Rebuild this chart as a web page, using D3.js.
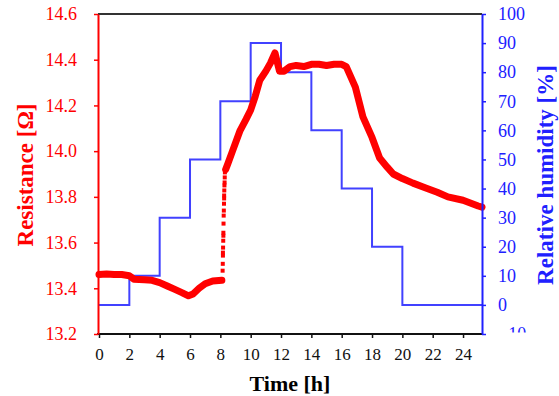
<!DOCTYPE html>
<html>
<head>
<meta charset="utf-8">
<script src="https://cdnjs.cloudflare.com/ajax/libs/d3/7.8.5/d3.min.js"></script>
<style>
    html, body { margin: 0; padding: 0; background: white; }
    svg { display: block; }
</style>
</head>
<body>
<svg id="chart" width="559" height="396"></svg>
<script>
//humidity steps (start hour, %)
var stepTimes = [0, 2, 4, 6, 8, 10, 12, 14, 16, 18, 20, 25.25];
var stepHumidity = [0, 10, 30, 50, 70, 90, 80, 60, 40, 20, 0, 0];

//resistance trace (hours, ohm)
var resTimes = [0, 0.5, 1, 1.5, 2, 2.3, 3, 3.5, 4, 4.5, 5, 5.5, 5.9, 6.2, 6.6, 7, 7.5, 8.1];
var resValues = [13.46, 13.462, 13.46, 13.46, 13.455, 13.44, 13.437, 13.435, 13.425, 13.41, 13.395, 13.38, 13.367, 13.375, 13.40, 13.42, 13.432, 13.435];

var riseTimes = [8.35, 8.5, 8.8, 9.3, 9.7, 10, 10.3, 10.6, 11, 11.3, 11.6, 11.9, 12.2, 12.6, 13, 13.5, 14, 14.5, 15, 15.5, 16, 16.3, 16.9, 17.4, 18, 18.5, 19, 19.4, 20, 20.7, 21.5, 22.3, 23, 24, 25, 25.25];
var riseValues = [13.92, 13.946, 14.0, 14.09, 14.14, 14.18, 14.24, 14.31, 14.35, 14.385, 14.43, 14.35, 14.35, 14.37, 14.375, 14.37, 14.38, 14.38, 14.375, 14.38, 14.38, 14.37, 14.28, 14.15, 14.06, 13.97, 13.93, 13.90, 13.88, 13.86, 13.84, 13.82, 13.80, 13.785, 13.76, 13.755];

//sparse points during the jump at ~8.2 h
var jumpTimes = [8.15, 8.16, 8.17, 8.17, 8.18, 8.19, 8.2, 8.2, 8.21, 8.22, 8.23, 8.24, 8.25, 8.25, 8.26, 8.27, 8.28, 8.29, 8.3];
var jumpValues = [13.477, 13.507, 13.543, 13.556, 13.578, 13.608, 13.63, 13.643, 13.683, 13.718, 13.74, 13.77, 13.793, 13.806, 13.828, 13.85, 13.863, 13.885, 13.907];

//ticks
var timeTicks = [0, 2, 4, 6, 8, 10, 12, 14, 16, 18, 20, 22, 24];
var resTicks = [13.2, 13.4, 13.6, 13.8, 14.0, 14.2, 14.4, 14.6];
var humTicks = [-10, 0, 10, 20, 30, 40, 50, 60, 70, 80, 90, 100];

var RED = "#ff0000";
var BLUE = "#2020ff";

var svg = d3.select("#chart");
//plot box (window.top is taken, so no plain "top")
var plotLeft = 98, plotRight = 482, plotTop = 14, plotBottom = 334;

var x = d3.scaleLinear().domain([0, 25.25]).range([plotLeft + 1, plotRight]);
var yRes = d3.scaleLinear().domain([13.2, 14.6]).range([plotBottom, plotTop]);
var yHum = d3.scaleLinear().domain([-10, 100]).range([plotBottom, plotTop]);

var font = "'Liberation Serif', 'Times New Roman', serif";

//frame top line
svg.append("line")
    .attr("x1", plotLeft).attr("x2", plotRight)
    .attr("y1", plotTop).attr("y2", plotTop)
    .style("stroke", "#333").style("stroke-width", 2);

//humidity step line
var stepLine = d3.line()
    .x(function (d) { return x(d[0]); })
    .y(function (d) { return yHum(d[1]); })
    .curve(d3.curveStepAfter);
svg.append("path")
    .datum(stepTimes.map(function (t, i) { return [t, stepHumidity[i]]; }))
    .attr("d", stepLine)
    .style("fill", "none")
    .style("stroke", BLUE)
    .style("stroke-opacity", 0.85)
    .style("stroke-width", 2);

//resistance trace
var resLine = d3.line()
    .x(function (d) { return x(d[0]); })
    .y(function (d) { return yRes(d[1]); });

[[resTimes, resValues], [riseTimes, riseValues]].forEach(function (s) {
    svg.append("path")
        .datum(s[0].map(function (t, i) { return [t, s[1][i]]; }))
        .attr("d", resLine)
        .style("fill", "none")
        .style("stroke", RED)
        .style("stroke-width", 7)
        .style("stroke-linejoin", "round")
        .style("stroke-linecap", "round");
});

svg.selectAll(".jump")
    .data(jumpTimes.map(function (t, i) { return [t, jumpValues[i]]; }))
    .enter().append("rect")
    .attr("class", "jump")
    .attr("x", function (d) { return x(d[0]) - 2; })
    .attr("y", function (d) { return yRes(d[1]) - 2; })
    .attr("width", 4).attr("height", 4)
    .style("fill", RED);

//axes
var xAxis = svg.append("g")
    .attr("transform", "translate(0," + plotBottom + ")")
    .call(d3.axisBottom(x).tickValues(timeTicks).tickSize(4).tickPadding(10).tickSizeOuter(0));
xAxis.select(".domain").attr("d", "M" + (plotLeft - 1) + ",0H" + plotRight).style("stroke", "#111").style("stroke-width", 2);
xAxis.selectAll(".tick line").style("stroke", "#111").style("stroke-width", 1.5);
xAxis.selectAll("text").style("font-family", font).style("font-size", "17px").style("fill", "#111");

var resAxis = svg.append("g")
    .attr("transform", "translate(" + plotLeft + ",0)")
    .call(d3.axisLeft(yRes).tickValues(resTicks).tickFormat(d3.format(".1f")).tickSize(4).tickPadding(17).tickSizeOuter(0));
resAxis.select(".domain").style("stroke", RED).style("stroke-width", 2);
resAxis.selectAll(".tick line").style("stroke", RED).style("stroke-width", 1.5);
resAxis.selectAll("text").style("font-family", font).style("font-size", "18px").style("fill", RED);

var humAxis = svg.append("g")
    .attr("transform", "translate(" + plotRight + ",0)")
    .call(d3.axisRight(yHum).tickValues(humTicks).tickSize(4).tickPadding(12).tickSizeOuter(0));
humAxis.select(".domain").style("stroke", BLUE).style("stroke-width", 2);
humAxis.selectAll(".tick line").style("stroke", BLUE).style("stroke-width", 1.5);
humAxis.selectAll("text").style("font-family", font).style("font-size", "18px").style("fill", BLUE);

//the -10 label is cut off just below the axis in the original
//(clip rect is in the tick's local space, tick centre at y=0)
svg.append("clipPath").attr("id", "humClip")
    .append("rect").attr("x", 0).attr("y", -10).attr("width", 80).attr("height", 8);
humAxis.selectAll(".tick text").filter(function (d) { return d == -10; })
    .attr("clip-path", "url(#humClip)");

//axis titles
svg.append("text")
    .attr("x", 290).attr("y", 391)
    .attr("text-anchor", "middle")
    .style("font-family", font).style("font-weight", "bold").style("font-size", "22px")
    .text("Time [h]");

svg.append("text")
    .attr("transform", "translate(33,175) rotate(-90)")
    .attr("text-anchor", "middle")
    .style("font-family", font).style("font-weight", "bold").style("font-size", "23px")
    .style("fill", RED)
    .text("Resistance [Ω]");

svg.append("text")
    .attr("transform", "translate(553,175) rotate(-90)")
    .attr("text-anchor", "middle")
    .style("font-family", font).style("font-weight", "bold").style("font-size", "23px")
    .style("fill", BLUE)
    .text("Relative humidity [%]");
</script>
</body>
</html>
